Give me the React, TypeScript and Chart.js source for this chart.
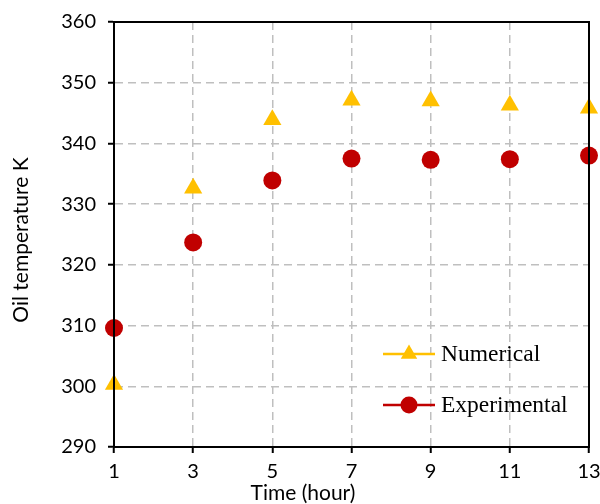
import React, { useEffect, useRef } from "react";
import { Chart, registerables } from "chart.js";

Chart.register(...registerables);

const timeHours = [1, 3, 5, 7, 9, 11, 13];
const numerical = [300.3, 332.6, 343.9, 347.1, 347.0, 346.3, 345.8];
const experimental = [309.6, 323.7, 333.9, 337.5, 337.3, 337.4, 338.0];
const seriesNames = ["Numerical", "Experimental"];
const xTitle = "Time (hour)";
const yTitle = "Oil temperature K";

const SANS = "Lato, 'Open Sans', sans-serif";
const SERIF = "'Liberation Serif', 'Times New Roman', serif";

const overlayPlugin = {
  id: "overlay",
  afterDraw(chart: any) {
    const { ctx, chartArea } = chart;
    ctx.save();
    // frame
    ctx.strokeStyle = "#000";
    ctx.lineWidth = 2;
    ctx.strokeRect(chartArea.left, chartArea.top, chartArea.right - chartArea.left, chartArea.bottom - chartArea.top);
    // axis titles
    ctx.fillStyle = "#000";
    ctx.font = `21px ${SANS}`;
    ctx.textAlign = "center";
    ctx.textBaseline = "middle";
    ctx.fillText(xTitle, 303, 493);
    ctx.save();
    ctx.translate(21, 240);
    ctx.rotate(-Math.PI / 2);
    ctx.fillText(yTitle, 0, 0);
    ctx.restore();
    // legend
    const items = chart.data.datasets;
    const rows = [354, 405];
    items.forEach((ds: any, i: number) => {
      const y = rows[i];
      ctx.strokeStyle = ds.borderColor;
      ctx.lineWidth = 2.5;
      ctx.beginPath();
      ctx.moveTo(383, y);
      ctx.lineTo(435, y);
      ctx.stroke();
      ctx.fillStyle = ds.backgroundColor;
      ctx.beginPath();
      if (ds.pointStyle === "triangle") {
        const r = 9.5;
        ctx.moveTo(409, y - r);
        ctx.lineTo(409 + r * 0.866, y + r * 0.5);
        ctx.lineTo(409 - r * 0.866, y + r * 0.5);
        ctx.closePath();
      } else {
        ctx.arc(409, y, 8.5, 0, Math.PI * 2);
      }
      ctx.fill();
      ctx.fillStyle = "#000";
      ctx.font = `23.5px ${SERIF}`;
      ctx.textAlign = "left";
      ctx.textBaseline = "middle";
      ctx.fillText(ds.label, 441, y + 1);
    });
    ctx.restore();
  },
};

export default function App() {
  const ref = useRef<HTMLCanvasElement | null>(null);
  useEffect(() => {
    if (!ref.current) return;
    const chart = new Chart(ref.current, {
      type: "scatter",
      data: {
        datasets: [
          {
            label: seriesNames[0],
            data: timeHours.map((x, i) => ({ x, y: numerical[i] })),
            pointStyle: "triangle",
            pointRadius: 10.5,
            pointHoverRadius: 10.5,
            backgroundColor: "#FFC000",
            borderColor: "#FFC000",
            borderWidth: 0,
            clip: false,
          } as any,
          {
            label: seriesNames[1],
            data: timeHours.map((x, i) => ({ x, y: experimental[i] })),
            pointStyle: "circle",
            pointRadius: 9,
            pointHoverRadius: 9,
            backgroundColor: "#C00000",
            borderColor: "#C00000",
            borderWidth: 0,
            clip: false,
          } as any,
        ],
      },
      options: {
        animation: false,
        responsive: false,
        maintainAspectRatio: false,
        layout: { padding: { left: 0, top: 22, right: 11, bottom: 0 } },
        plugins: { legend: { display: false }, tooltip: { enabled: false } },
        scales: {
          x: {
            type: "linear",
            min: 1,
            max: 13,
            ticks: { stepSize: 2, color: "#000", font: { family: SANS, size: 20 }, padding: 7, maxRotation: 0 },
            grid: { color: "#bfbfbf", lineWidth: 1.5, tickColor: "#000", tickLength: 6, tickWidth: 2, tickBorderDash: [] },
            border: { color: "#000", width: 2, dash: [8, 5] },
            afterFit: (s: any) => {
              s.height = 57;
              s.paddingLeft = 0;
              s.paddingRight = 0;
            },
          },
          y: {
            type: "linear",
            min: 290,
            max: 360,
            ticks: { stepSize: 10, color: "#000", font: { family: SANS, size: 20 }, padding: 12 },
            grid: { color: "#bfbfbf", lineWidth: 1.5, tickColor: "#000", tickLength: 6, tickWidth: 2, tickBorderDash: [] },
            border: { color: "#000", width: 2, dash: [8, 5] },
            afterFit: (s: any) => {
              s.width = 114;
              s.paddingTop = 0;
              s.paddingBottom = 0;
            },
          },
        },
      },
      plugins: [overlayPlugin],
    });
    return () => chart.destroy();
  }, []);
  return (
    <div style={{ position: "absolute", left: 0, top: 0, width: 600, height: 504, background: "#fff" }}>
      <canvas ref={ref} width={600} height={504} style={{ width: 600, height: 504 }} />
    </div>
  );
}
